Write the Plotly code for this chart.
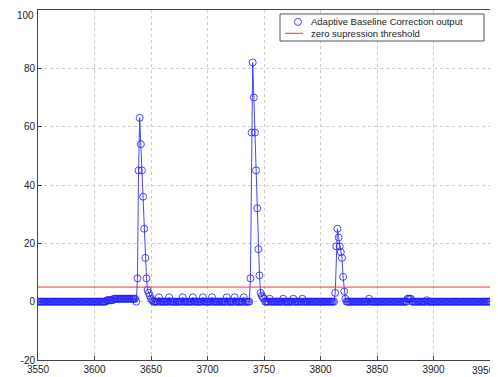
import plotly.graph_objects as go

# Sample index axis
x_start = 3550
x_end = 3950
sample_x = list(range(x_start, x_end + 1))

# Adaptive baseline correction output, one value per sample (rows of 10, starting at the commented index)
abc_output = [
    0, 0, 0, 0, 0, 0, 0, 0, 0, 0,            # 3550
    0, 0, 0, 0, 0, 0, 0, 0, 0, 0,            # 3560
    0, 0, 0, 0, 0, 0, 0, 0, 0, 0,            # 3570
    0, 0, 0, 0, 0, 0, 0, 0, 0, 0,            # 3580
    0, 0, 0, 0, 0, 0, 0, 0, 0, 0,            # 3590
    0, 0, 0, 0, 0, 0, 0, 0, 0, 0,            # 3600
    0, 0.5, 0.5, 0.5, 0.5, 0.5, 0.5, 1, 1, 1,  # 3610
    1, 1, 1, 1, 1, 1, 1, 1, 1, 1,            # 3620
    1, 1, 1, 1, 1, 1, 1, 0, 8, 45,           # 3630
    63, 54, 45, 36, 25, 15, 8, 4, 3, 2,      # 3640
    1, 0.5, 0, 0, 0, 0, 0, 1.5, 0, 0,        # 3650
    0, 0, 0, 0, 0, 0, 1.5, 0, 0, 0,          # 3660
    0, 0, 0, 0, 0, 0, 0, 0, 1.5, 0,          # 3670
    0, 0, 0, 0, 0, 0, 0, 1.5, 0, 0,          # 3680
    0, 0, 0, 0, 0, 0, 1.5, 0, 0, 0,          # 3690
    0, 0, 0, 0, 1.5, 0, 0, 0, 0, 0,          # 3700
    0, 0, 0, 0, 0, 0, 0, 1.5, 0, 0,          # 3710
    0, 0, 0, 0, 1.5, 0, 0, 0, 0, 0,          # 3720
    0, 0, 1.5, 0, 0, 0, 0, 0, 8, 58,         # 3730
    82, 70, 58, 45, 32, 18, 9, 3, 2, 1.5,    # 3740
    1, 0, 0, 0, 0, 1, 0, 0, 0, 0,            # 3750
    0, 0, 0, 0, 0, 0, 0, 1, 0, 0,            # 3760
    0, 0, 0, 0, 0, 0, 1, 0, 0, 0,            # 3770
    0, 0, 0, 0, 1, 0, 0, 0, 0, 0,            # 3780
    0, 0, 0, 0, 0, 0, 0, 0, 0, 0,            # 3790
    0, 0, 0, 0, 0, 0, 0, 0, 0, 0,            # 3800
    0, 0, 0, 3, 19, 25, 22, 19, 17, 15,      # 3810
    8.5, 3.5, 1, 0, 0, 0, 0, 0, 0, 0,        # 3820
    0, 0, 0, 0, 0, 0, 0, 0, 0, 0,            # 3830
    0, 0, 0, 1, 0, 0, 0, 0, 0, 0,            # 3840
    0, 0, 0, 0, 0, 0, 0, 0, 0, 0,            # 3850
    0, 0, 0, 0, 0, 0, 0, 0, 0, 0,            # 3860
    0, 0, 0, 0, 0, 0, 0, 1, 1, 1,            # 3870
    1, 0, 0, 0, 0, 0, 0, 0, 0, 0,            # 3880
    0, 0, 0, 0, 0.5, 0, 0, 0, 0, 0,          # 3890
    0, 0, 0, 0, 0, 0, 0, 0, 0, 0,            # 3900
    0, 0, 0, 0, 0, 0, 0, 0, 0, 0,            # 3910
    0, 0, 0, 0, 0, 0, 0, 0, 0, 0,            # 3920
    0, 0, 0, 0, 0, 0, 0, 0, 0, 0,            # 3930
    0, 0, 0, 0, 0, 0, 0, 0, 0, 0,            # 3940
    0,                                       # 3950
]

threshold_x = [3550, 3950]
threshold_y = [5, 5]

x_ticks = [3550, 3600, 3650, 3700, 3750, 3800, 3850, 3900, 3950]
y_ticks = [-20, 0, 20, 40, 60, 80, 100]

series_names = ["Adaptive Baseline Correction output", "zero supression threshold"]

BLUE = "rgba(30,30,255,0.8)"
RED = "#ff3333"
FONT = "Liberation Sans, Arial, sans-serif"
TICK_FONT = dict(family=FONT, size=10, color="#222222")

fig = go.Figure()

# connecting line
fig.add_trace(go.Scatter(
    x=sample_x, y=abc_output, mode="lines",
    line=dict(color="rgba(40,40,255,0.85)", width=1),
    showlegend=False, hoverinfo="skip",
))
# circle markers
fig.add_trace(go.Scatter(
    x=sample_x, y=abc_output, mode="markers",
    name=series_names[0], showlegend=False,
    marker=dict(symbol="circle-open", size=7, color=BLUE,
                line=dict(width=1, color=BLUE)),
))
fig.add_trace(go.Scatter(
    x=threshold_x, y=threshold_y, mode="lines",
    name=series_names[1], showlegend=False,
    line=dict(color=RED, width=1),
))

axis_common = dict(
    showline=True, mirror=True, linecolor="#444444", linewidth=1,
    showgrid=True, gridcolor="#cccccc", griddash="dot", gridwidth=1,
    ticks="inside", ticklen=4, tickcolor="#444444",
    zeroline=False,
    tickfont=TICK_FONT,
)

# the two edge labels (3950 and 100) are drawn as annotations kept inside the page
fig.update_xaxes(range=[3550, 3950], tickvals=x_ticks,
                 ticktext=[str(v) for v in x_ticks[:-1]] + [""],
                 **axis_common)
fig.update_yaxes(range=[-20, 100], tickvals=y_ticks,
                 ticktext=[str(v) for v in y_ticks[:-1]] + [""],
                 **axis_common)

annotations = [
    dict(x=1, y=0, xref="paper", yref="paper", text=str(x_ticks[-1]),
         showarrow=False, xanchor="right", yanchor="top", yshift=-3, xshift=7,
         font=TICK_FONT),
    dict(x=0, y=1, xref="paper", yref="paper", text=str(y_ticks[-1]),
         showarrow=False, xanchor="right", yanchor="top", yshift=2, xshift=-2,
         font=TICK_FONT),
]

# manual legend (box, symbols, labels) in paper coordinates
lx0, lx1, ly0, ly1 = 0.5354, 0.9867, 0.9114, 0.9886
shapes = [
    dict(type="rect", xref="paper", yref="paper", x0=lx0, x1=lx1, y0=ly0, y1=ly1,
         line=dict(color="#555555", width=1), fillcolor="white", layer="above"),
    dict(type="circle", xref="paper", yref="paper",
         x0=0.5752 - 0.0077, x1=0.5752 + 0.0077, y0=0.9660 - 0.0100, y1=0.9660 + 0.0100,
         line=dict(color=BLUE, width=1), layer="above"),
    dict(type="line", xref="paper", yref="paper", x0=0.5465, x1=0.5863, y0=0.9334, y1=0.9334,
         line=dict(color=RED, width=1), layer="above"),
]
for name, ty in zip(series_names, [0.9660, 0.9334]):
    annotations.append(dict(
        x=0.5996, y=ty, xref="paper", yref="paper", text=name, showarrow=False,
        xanchor="left", yanchor="middle",
        font=dict(family=FONT, size=9.5, color="#222222"),
    ))

# the page body adds an 8 px margin, so the figure is sized to fit the remaining window
fig.update_layout(
    width=490, height=369,
    margin=dict(l=30, r=8, t=2, b=17, pad=0),
    paper_bgcolor="white", plot_bgcolor="white",
    font=dict(family=FONT, size=10, color="#222222"),
    showlegend=False,
    shapes=shapes,
    annotations=annotations,
)

fig.write_html("out.html", config={"displayModeBar": False})
